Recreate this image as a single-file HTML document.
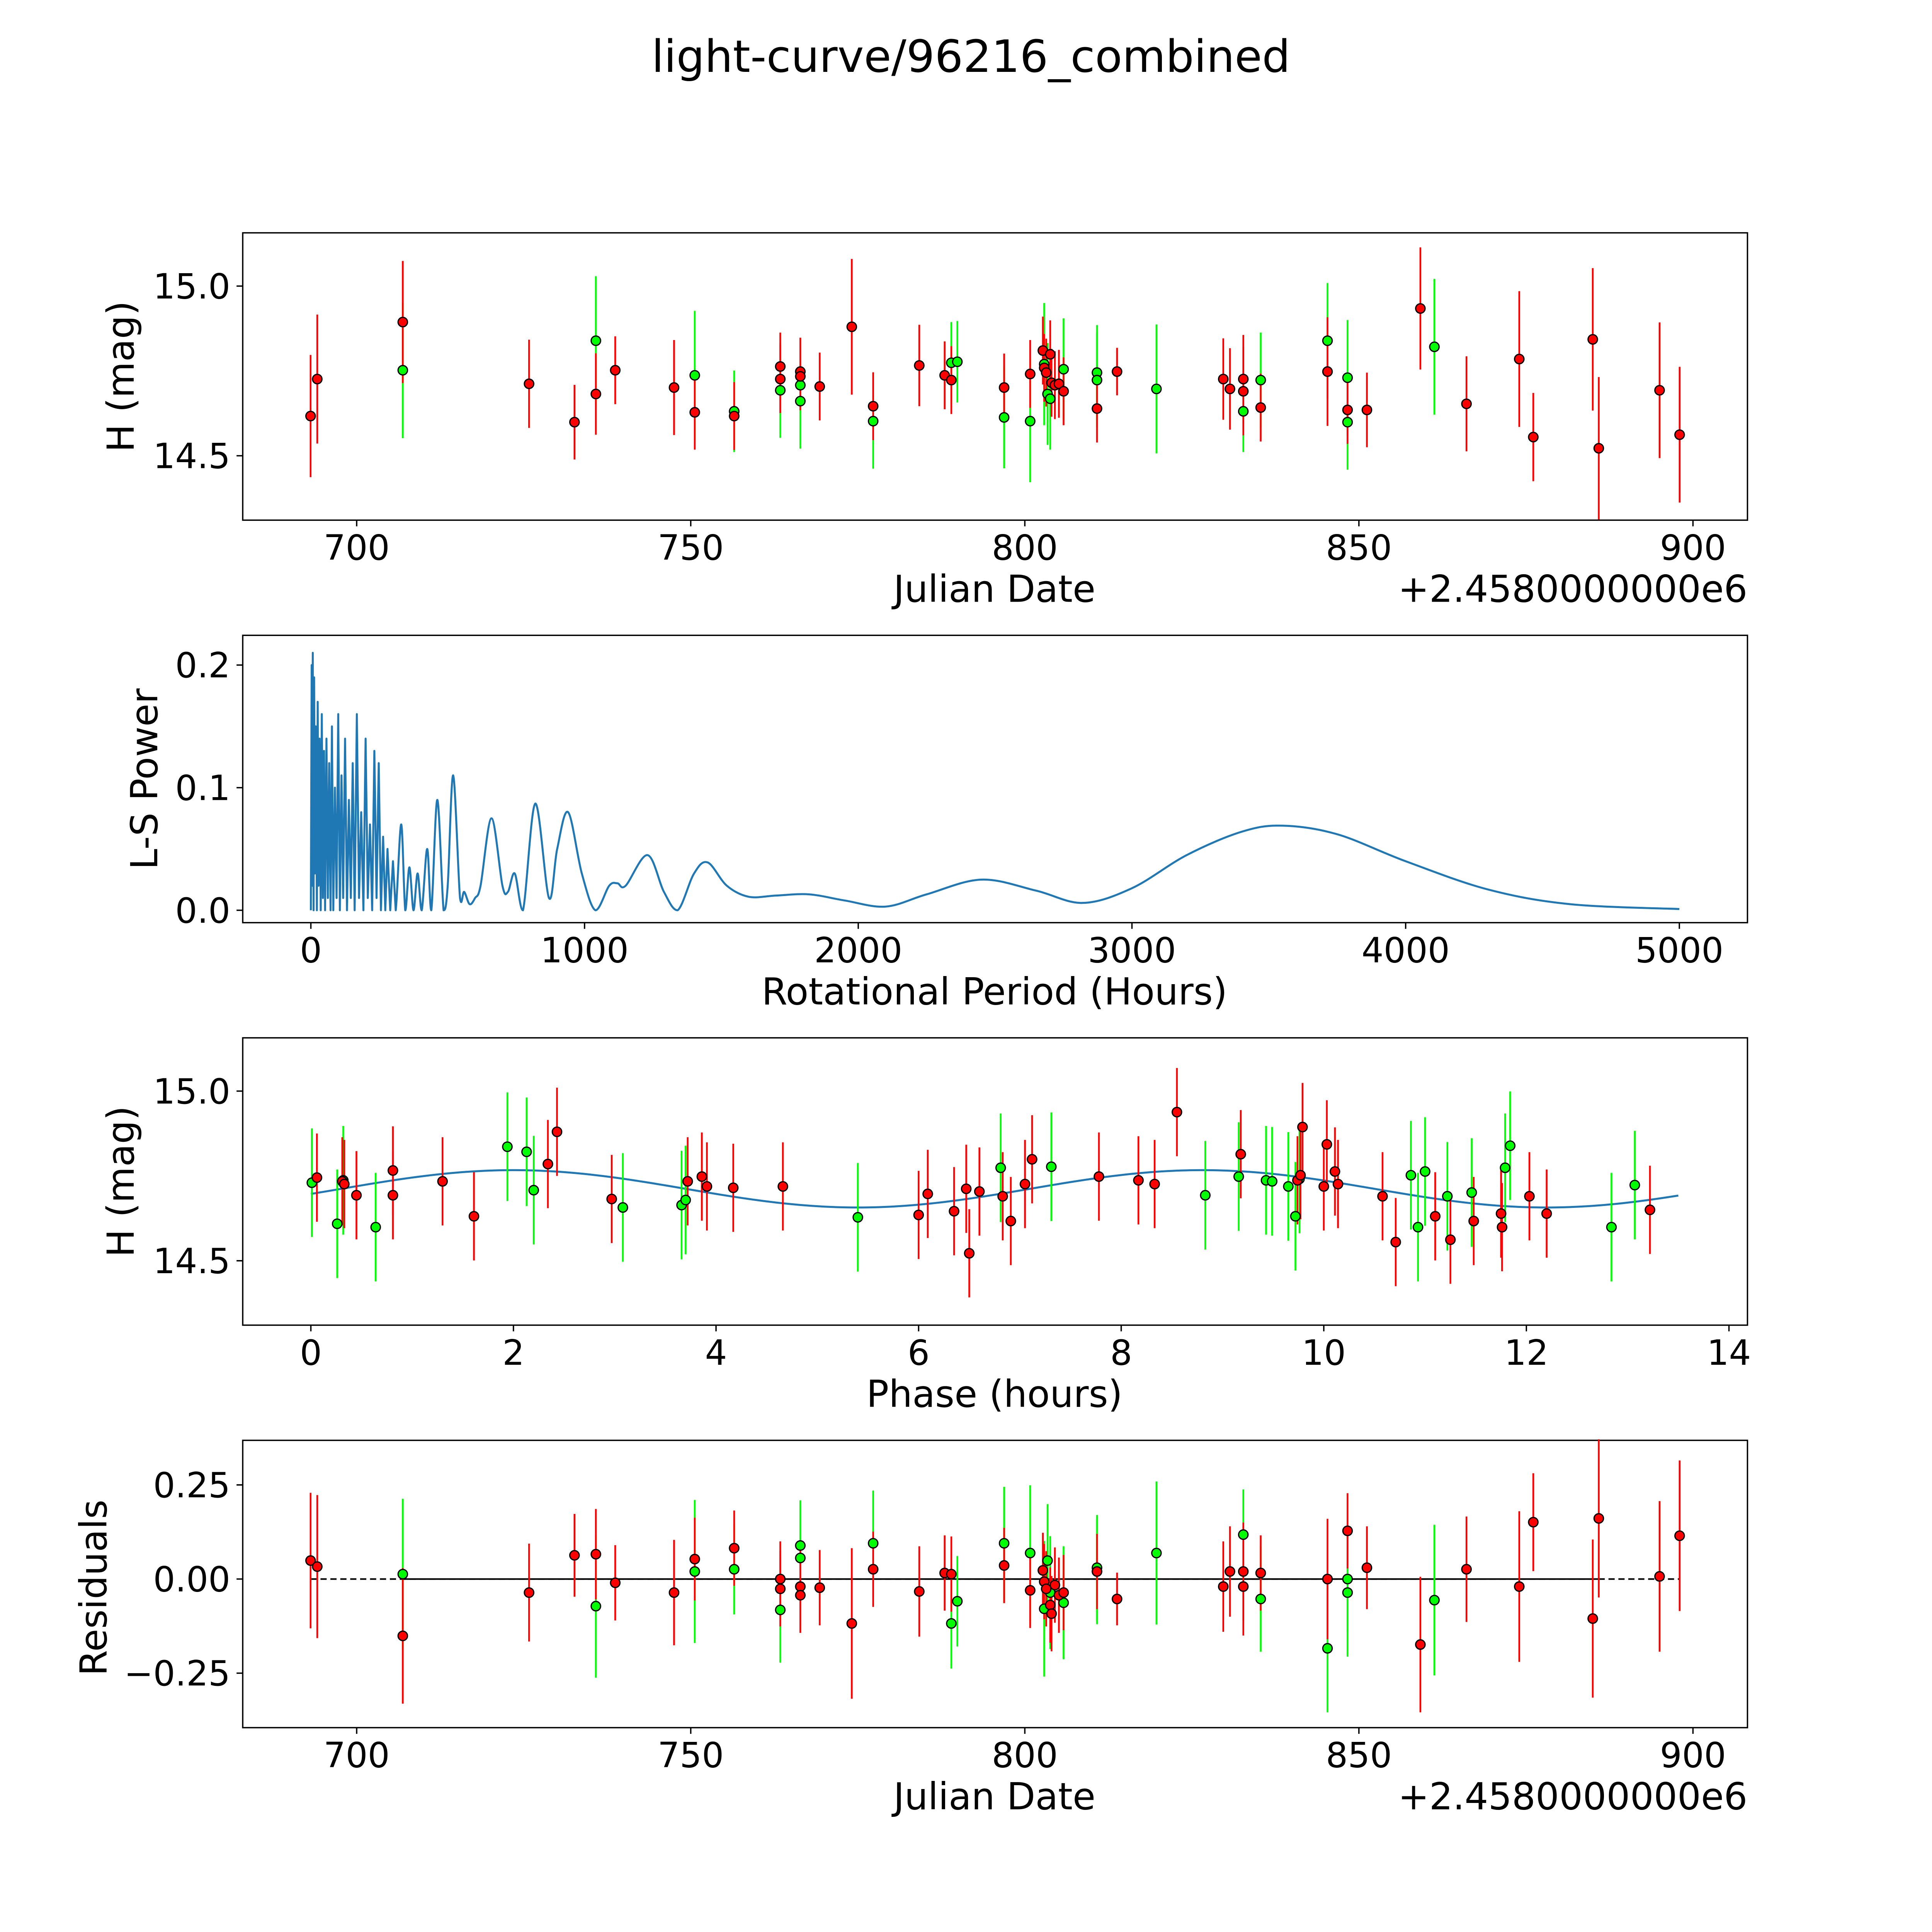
<!DOCTYPE html>
<html><head><meta charset="utf-8"><style>
html,body{margin:0;padding:0;background:#fff;width:100%;height:100%;overflow:hidden;}
svg{display:block;width:100vw;height:100vh;font-family:"DejaVu Sans","Liberation Sans",sans-serif;}
</style></head><body>
<svg id="fig" xmlns="http://www.w3.org/2000/svg" viewBox="0 0 1560 1560" preserveAspectRatio="xMidYMid meet">
<rect x="0" y="0" width="1560" height="1560" fill="#fff"/>
<text x="784" y="58" font-size="36" text-anchor="middle">light-curve/96216_combined</text>
</svg>
<script>
// ---------- data ----------
const redDates=[693.1,694.1,706.9,725.8,732.6,735.8,738.7,747.5,750.6,756.5,763.4,763.4,766.4,766.4,769.3,774.1,777.3,784.2,788.0,789.0,796.9,800.8,802.7,802.9,803.2,803.8,804.0,804.5,805.1,805.8,810.8,813.8,829.7,830.7,832.7,832.7,835.3,845.3,848.3,851.2,859.2,866.1,874.0,876.1,885.0,885.9,895.0,898.0];
const redMags=[14.617,14.726,14.894,14.712,14.599,14.682,14.752,14.701,14.628,14.617,14.763,14.726,14.748,14.734,14.704,14.880,14.646,14.766,14.737,14.723,14.701,14.741,14.810,14.759,14.745,14.799,14.715,14.708,14.712,14.690,14.639,14.748,14.726,14.697,14.726,14.690,14.642,14.748,14.635,14.635,14.934,14.653,14.785,14.555,14.843,14.522,14.693,14.562];
const redErrs=[0.18,0.19,0.18,0.13,0.11,0.12,0.10,0.14,0.11,0.10,0.10,0.10,0.10,0.10,0.10,0.20,0.10,0.12,0.10,0.10,0.10,0.10,0.10,0.10,0.10,0.10,0.10,0.10,0.10,0.10,0.10,0.07,0.12,0.12,0.13,0.13,0.10,0.16,0.10,0.11,0.18,0.14,0.20,0.13,0.21,0.21,0.20,0.20];
const redResid=[0.049,0.033,-0.151,-0.036,0.063,0.066,-0.010,-0.036,0.053,0.082,0.000,-0.026,-0.020,-0.043,-0.023,-0.118,0.026,-0.033,0.016,0.013,0.036,-0.030,0.023,-0.007,-0.026,-0.069,-0.092,-0.016,-0.043,-0.036,0.020,-0.053,-0.020,0.020,0.020,-0.020,0.016,0.000,0.128,0.030,-0.174,0.026,-0.020,0.151,-0.105,0.161,0.007,0.115];
const greenDates=[706.9,735.8,750.6,756.5,763.4,766.4,766.4,777.3,789.0,789.9,796.9,800.8,802.9,803.4,803.8,805.8,810.8,810.8,819.7,832.7,835.3,845.3,848.3,848.3,861.3];
const greenMags=[14.752,14.839,14.737,14.631,14.693,14.708,14.661,14.602,14.774,14.777,14.613,14.602,14.770,14.682,14.668,14.755,14.745,14.723,14.697,14.631,14.723,14.839,14.730,14.599,14.821];
const greenErrs=[0.20,0.19,0.19,0.12,0.14,0.12,0.14,0.14,0.12,0.12,0.15,0.18,0.18,0.15,0.15,0.15,0.14,0.14,0.19,0.12,0.14,0.17,0.17,0.14,0.20];
const greenResid=[0.013,-0.072,0.020,0.026,-0.082,0.089,0.056,0.095,-0.118,-0.059,0.095,0.069,-0.079,0.049,-0.036,-0.063,0.030,0.020,0.069,0.118,-0.053,-0.184,-0.036,0.000,-0.056];
// periodogram
const lsPeriods=[0,3,5,7,10,12,15,18,22,25,28,32,36,40,44,48,52,57,62,67,72,77,82,88,94,100,106,112,118,125,132,139,146,153,160,168,176,184,192,200,208,216,224,232,240,248,256,264,272,280,290,300,310,330,345,360,375,390,405,425,440,462,485,500,520,545,560,580,600,620,660,700,720,745,775,820,870,900,940,990,1040,1090,1120,1150,1230,1290,1340,1400,1450,1520,1600,1700,1820,1950,2100,2250,2450,2650,2820,3000,3200,3400,3550,3750,4000,4300,4600,5000];
const lsPowers=[0,0.20,0.02,0.21,0.0,0.19,0.03,0.15,0.0,0.17,0.02,0.14,0.0,0.16,0.01,0.13,0.0,0.14,0.01,0.12,0.0,0.15,0.0,0.10,0.01,0.16,0.0,0.11,0.01,0.14,0.0,0.09,0.01,0.12,0.0,0.16,0.01,0.08,0.0,0.14,0.01,0.07,0.0,0.13,0.01,0.12,0.0,0.06,0.0,0.05,0.0,0.04,0.0,0.07,0.0,0.035,0.0,0.03,0.0,0.05,0.0,0.09,0.0,0.02,0.11,0.01,0.015,0.005,0.01,0.02,0.075,0.02,0.015,0.03,0.0,0.087,0.01,0.05,0.08,0.03,0.0,0.02,0.022,0.02,0.045,0.015,0.0,0.03,0.039,0.02,0.011,0.012,0.013,0.008,0.003,0.013,0.025,0.016,0.006,0.018,0.045,0.064,0.069,0.062,0.04,0.017,0.005,0.001];
// phase-folded
const phRedX=[0.06,0.31,0.33,0.45,0.81,0.81,1.30,1.61,2.34,2.43,2.97,3.72,3.86,3.91,4.17,4.66,6.00,6.09,6.35,6.47,6.50,6.60,6.83,6.91,7.05,7.12,7.78,8.17,8.33,8.55,9.18,9.74,9.77,9.79,10.00,10.03,10.11,10.14,10.58,10.71,11.10,11.25,11.48,11.75,11.76,12.03,12.20,13.22];
const phRedMag=[14.745,14.734,14.726,14.693,14.766,14.693,14.734,14.631,14.785,14.880,14.682,14.734,14.748,14.719,14.715,14.719,14.635,14.697,14.646,14.712,14.522,14.704,14.690,14.617,14.726,14.799,14.748,14.737,14.726,14.938,14.814,14.737,14.752,14.894,14.719,14.843,14.763,14.726,14.690,14.555,14.631,14.562,14.617,14.639,14.599,14.690,14.639,14.650];
const phGreenX=[0.01,0.26,0.32,0.64,1.94,2.13,2.20,3.08,3.66,3.70,5.40,6.81,7.31,8.83,9.16,9.43,9.49,9.65,9.72,9.76,10.86,10.93,11.00,11.22,11.46,11.79,11.84,12.84,13.07];
const phGreenMag=[14.730,14.609,14.737,14.599,14.836,14.821,14.708,14.657,14.664,14.679,14.628,14.774,14.777,14.693,14.748,14.737,14.734,14.719,14.631,14.741,14.752,14.599,14.763,14.690,14.701,14.774,14.839,14.599,14.723];
const phRedErr=[0.13];
const phGreenErr=[0.16];
// model sinusoid parameters: mean, amplitude, period (h), peak phase (h), max phase
const modelParams=[14.712,0.055,6.8,2.0,13.5];

// ---------- drawing ----------
const NS='http://www.w3.org/2000/svg';
const svg=document.getElementById('fig');
function mk(tag,attrs,parent){const e=document.createElementNS(NS,tag);for(const k in attrs)e.setAttribute(k,attrs[k]);(parent||svg).appendChild(e);return e;}
const L=196,R=1411,H=232;
const TF=28, LF=30;
function frame(top,name){
  const g=mk('g',{});
  
  
  return g;
}
function box(g,top){
  const r=mk('rect',{x:L,y:top,width:R-L,height:H,fill:'none',stroke:'#000','stroke-width':1.1},g);
  
  
}
function xTicks(g,vals,labels,sx,bottom){
  vals.forEach((v,i)=>{const x=sx(v);
    const t=mk('line',{x1:x,x2:x,y1:bottom,y2:bottom+5,stroke:'#000','stroke-width':1.1},g);
    
    
    const tx=mk('text',{x:x,y:bottom+32,'font-size':TF,'text-anchor':'middle'},g);tx.textContent=labels[i];
    
    
  });
}
function yTicks(g,vals,labels,sy){
  vals.forEach((v,i)=>{const y=sy(v);
    const t=mk('line',{x1:L-5,x2:L,y1:y,y2:y,stroke:'#000','stroke-width':1.1},g);
    
    
    const tx=mk('text',{x:L-10,y:y+10,'font-size':TF,'text-anchor':'end'},g);tx.textContent=labels[i];
    
    
  });
}
function label(g,txt,x,y,rot,name){
  const t=mk('text',{x:x,y:y,'font-size':LF,'text-anchor':'middle',transform:rot?`rotate(-90 ${x} ${y})`:''},g);t.textContent=txt;
  
  
}
function errPoint(g,x,y,y1,y2,col){
  const l=mk('line',{x1:x,x2:x,y1:y1,y2:y2,stroke:col,'stroke-width':1.4},g);
  
  
}
function dot(g,x,y,col){
  const c=mk('circle',{cx:x,cy:y,r:3.8,fill:col,stroke:'#000','stroke-width':1},g);
  
  
}
function offsetText(g,y){
  const o=mk('text',{x:R,y:y,'font-size':LF,'text-anchor':'end'},g);o.textContent='+2.4580000000e6';
  
  
}
const RED='#ff0000',GRN='#00ff00';
const sxDate=d=>288+(d-700)*5.395;

// Panel 1
(function(){const top=188;const g=frame(top,'light-curve-panel');
  const sy=m=>231+(15-m)*274;
  box(g,top);
  for(let i=0;i<greenDates.length;i++)errPoint(g,sxDate(greenDates[i]),0,sy(greenMags[i]+greenErrs[i]),sy(greenMags[i]-greenErrs[i]),GRN);
  for(let i=0;i<redDates.length;i++)errPoint(g,sxDate(redDates[i]),0,sy(redMags[i]+redErrs[i]),sy(redMags[i]-redErrs[i]),RED);
  for(let i=0;i<greenDates.length;i++)dot(g,sxDate(greenDates[i]),sy(greenMags[i]),GRN);
  for(let i=0;i<redDates.length;i++)dot(g,sxDate(redDates[i]),sy(redMags[i]),RED);
  xTicks(g,[700,750,800,850,900],['700','750','800','850','900'],sxDate,top+H);
  yTicks(g,[15.0,14.5],['15.0','14.5'],sy);
  label(g,'Julian Date',803,486,false,'x-axis-title');
  label(g,'H (mag)',108,304,true,'y-axis-title');
  offsetText(g,486);
})();

// Panel 2
(function(){const top=513;const g=frame(top,'periodogram-panel');
  const sx=p=>251+p*0.221, sy=v=>735-v*990;
  box(g,top);
  const pts=lsPeriods.map((p,i)=>[sx(p),sy(lsPowers[i])]);
  let d='M'+pts[0][0].toFixed(2)+' '+pts[0][1].toFixed(2);
  for(let i=1;i<pts.length;i++){
    if(lsPeriods[i]<=310){d+='L'+pts[i][0].toFixed(2)+' '+pts[i][1].toFixed(2);continue;}
    const p0=pts[i-2]||pts[i-1],p1=pts[i-1],p2=pts[i],p3=pts[i+1]||pts[i];
    const c1x=p1[0]+(p2[0]-p0[0])/6,c1y=p1[1]+(p2[1]-p0[1])/6;
    const c2x=p2[0]-(p3[0]-p1[0])/6,c2y=p2[1]-(p3[1]-p1[1])/6;
    d+='C'+c1x.toFixed(2)+' '+Math.min(c1y,735).toFixed(2)+' '+c2x.toFixed(2)+' '+Math.min(c2y,735).toFixed(2)+' '+p2[0].toFixed(2)+' '+p2[1].toFixed(2);
  }
  const pth=mk('path',{d:d,fill:'none',stroke:'#1f77b4','stroke-width':1.6,'stroke-linejoin':'round'},g);
  
  
  xTicks(g,[0,1000,2000,3000,4000,5000],['0','1000','2000','3000','4000','5000'],sx,top+H);
  yTicks(g,[0,0.1,0.2],['0.0','0.1','0.2'],sy);
  label(g,'Rotational Period (Hours)',803,811,false,'x-axis-title');
  label(g,'L-S Power',127,629,true,'y-axis-title');
})();

// Panel 3
(function(){const top=838;const g=frame(top,'phase-panel');
  const sx=p=>251+p*81.79, sy=m=>881+(15-m)*274;
  box(g,top);
  const [mu,amp,per,pk,pmax]=modelParams;
  let d='';for(let i=0;i<=300;i++){const p=pmax*i/300;const m=mu+amp*Math.cos(2*Math.PI*(p-pk)/per);d+=(i?'L':'M')+sx(p).toFixed(2)+' '+sy(m).toFixed(2);}
  const c=mk('path',{d:d,fill:'none',stroke:'#1f77b4','stroke-width':1.6},g);
  
  
  for(let i=0;i<phGreenX.length;i++)errPoint(g,sx(phGreenX[i]),0,sy(phGreenMag[i]+phGreenErr[0]),sy(phGreenMag[i]-phGreenErr[0]),GRN);
  for(let i=0;i<phRedX.length;i++)errPoint(g,sx(phRedX[i]),0,sy(phRedMag[i]+phRedErr[0]),sy(phRedMag[i]-phRedErr[0]),RED);
  for(let i=0;i<phGreenX.length;i++)dot(g,sx(phGreenX[i]),sy(phGreenMag[i]),GRN);
  for(let i=0;i<phRedX.length;i++)dot(g,sx(phRedX[i]),sy(phRedMag[i]),RED);
  xTicks(g,[0,2,4,6,8,10,12,14],['0','2','4','6','8','10','12','14'],sx,top+H);
  yTicks(g,[15.0,14.5],['15.0','14.5'],sy);
  label(g,'Phase (hours)',803,1136,false,'x-axis-title');
  label(g,'H (mag)',108,954,true,'y-axis-title');
})();

// Panel 4
(function(){const top=1163;const g=frame(top,'residuals-panel');
  const sy=r=>1275-r*304;
  box(g,top);
  const dl=mk('line',{x1:sxDate(redDates[0]),x2:sxDate(redDates[redDates.length-1]),y1:sy(0),y2:sy(0),stroke:'#000','stroke-width':1.3,'stroke-dasharray':'5,3'},g);
  
  
  const sl=mk('line',{x1:sxDate(greenDates[0]),x2:sxDate(885.9),y1:sy(0),y2:sy(0),stroke:'#000','stroke-width':1.3},g);
  
  
  for(let i=0;i<greenDates.length;i++)errPoint(g,sxDate(greenDates[i]),0,sy(greenResid[i]+greenErrs[i]),sy(greenResid[i]-greenErrs[i]),GRN);
  for(let i=0;i<redDates.length;i++)errPoint(g,sxDate(redDates[i]),0,sy(redResid[i]+redErrs[i]),sy(redResid[i]-redErrs[i]),RED);
  for(let i=0;i<greenDates.length;i++)dot(g,sxDate(greenDates[i]),sy(greenResid[i]),GRN);
  for(let i=0;i<redDates.length;i++)dot(g,sxDate(redDates[i]),sy(redResid[i]),RED);
  xTicks(g,[700,750,800,850,900],['700','750','800','850','900'],sxDate,top+H);
  yTicks(g,[0.25,0,-0.25],['0.25','0.00','\u22120.25'],sy);
  label(g,'Julian Date',803,1461,false,'x-axis-title');
  label(g,'Residuals',86,1282,true,'y-axis-title');
  offsetText(g,1461);
})();
</script>
</body></html>
